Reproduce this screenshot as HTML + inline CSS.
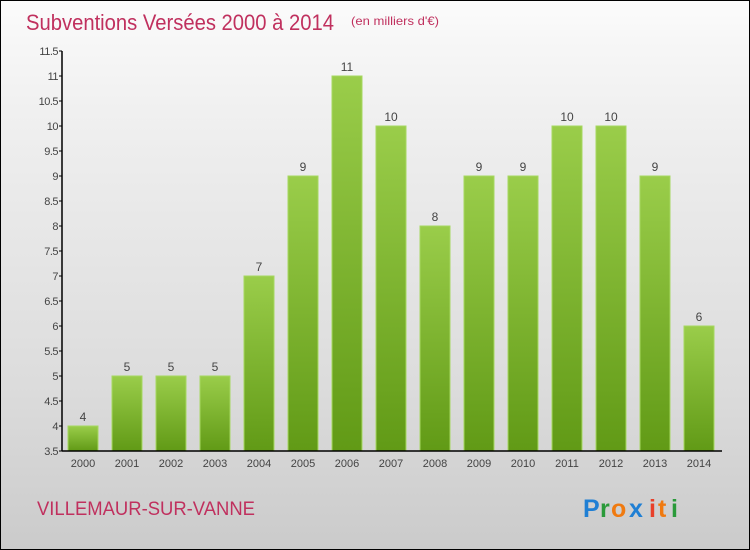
<!DOCTYPE html>
<html><head><meta charset="utf-8"><style>
body{margin:0}
#c{width:748px;height:548px;border:1px solid #000;background:linear-gradient(#fbfbfb,#f0f0f0 20%,#dcdcdc 70%,#cbcbcb);position:relative;overflow:hidden;font-family:"Liberation Sans",sans-serif}
</style></head><body>
<div id="c">
<svg width="748" height="548">
<defs><linearGradient id="g" x1="0" y1="0" x2="0" y2="1"><stop offset="0" stop-color="#9acd4a"/><stop offset="1" stop-color="#619a16"/></linearGradient></defs>
<text x="25" y="29" font-size="22" fill="#c0305e" textLength="308" lengthAdjust="spacingAndGlyphs">Subventions Versées 2000 à 2014</text>
<text x="350" y="24" font-size="12" fill="#c0305e" textLength="88" lengthAdjust="spacingAndGlyphs">(en milliers d'€)</text>
<g id="plot"></g>
<text x="36" y="514" font-size="19" fill="#c0305e" textLength="218" lengthAdjust="spacingAndGlyphs">VILLEMAUR-SUR-VANNE</text>
<g font-size="25" font-weight="bold">
<text x="582" y="516" fill="#1f7fd4">P</text><text x="599" y="516" fill="#2a9a3a">r</text><text x="610" y="516" fill="#f07a10">o</text><text x="628" y="516" fill="#1f7fd4">x</text><text x="648" y="516" fill="#e8402a">i</text><text x="657" y="516" fill="#f07a10">t</text><text x="670" y="516" fill="#2a9a3a">i</text>
</g>
</svg></div>
<script>
const years=["2000","2001","2002","2003","2004","2005","2006","2007","2008","2009","2010","2011","2012","2013","2014"];
const values=[4,5,5,5,7,9,11,10,8,9,9,10,10,9,6];
const yTicks=[3.5,4,4.5,5,5.5,6,6.5,7,7.5,8,8.5,9,9.5,10,10.5,11,11.5];
const ns="http://www.w3.org/2000/svg",g=document.getElementById("plot");
const y=v=>450-(v-3.5)*50, x=i=>82+i*44;
function mk(t,a,txt){const e=document.createElementNS(ns,t);for(const k in a)e.setAttribute(k,a[k]);if(txt!=null)e.textContent=txt;g.appendChild(e);return e;}
values.forEach((v,i)=>{
 const r=mk("rect",{x:x(i)-15,y:y(v),width:30,height:450-y(v),fill:"url(#g)",stroke:"#a6d860","stroke-width":1});
 
 
 const l=mk("text",{x:x(i),y:y(v)-5,"font-size":12,fill:"#444","text-anchor":"middle"},String(v));
 
 
 const xl=mk("text",{x:x(i),y:466,"font-size":11,fill:"#444","text-anchor":"middle"},years[i]);
 
 
});
yTicks.forEach(t=>{
 mk("line",{x1:58,x2:61,y1:y(t),y2:y(t),stroke:"#000"});
 const tl=mk("text",{x:57,y:y(t)+4,"font-size":11,fill:"#444","text-anchor":"end","letter-spacing":"-0.5"},String(t));
 
 
});
const ya=mk("line",{x1:61,x2:61,y1:50,y2:450,stroke:"#000","stroke-width":1.5});


const xa=mk("line",{x1:61,x2:721,y1:450,y2:450,stroke:"#000","stroke-width":1.5});


</script>
</body></html>
